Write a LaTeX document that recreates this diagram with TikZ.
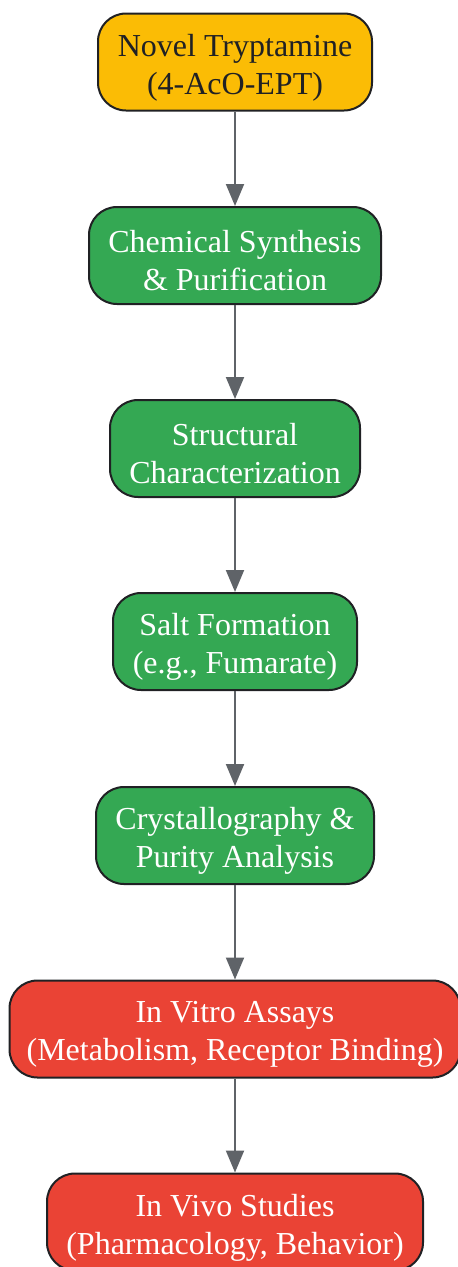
\documentclass[tikz,border=0pt]{standalone}
\usepackage{fontspec}
\setmainfont{Liberation Serif}
\usetikzlibrary{arrows.meta}
\definecolor{cyel}{HTML}{FBBC05}
\definecolor{cgrn}{HTML}{34A853}
\definecolor{cred}{HTML}{EA4335}
\definecolor{cdark}{HTML}{202124}
\definecolor{carr}{HTML}{5F6368}
\tikzset{
  box/.style={draw=cdark, line width=2pt, rounded corners=28pt,
    inner sep=0pt, minimum height=97pt},
  tx/.style={align=center, font=\fontsize{32}{38}\selectfont, inner sep=0pt, yshift=-5.5pt},
  ybox/.style={box, fill=cyel},
  gbox/.style={box, fill=cgrn},
  rbox/.style={box, fill=cred},
  flow/.style={draw=carr, line width=2pt, -{Triangle[length=22pt,width=18pt]}}
}
\begin{document}
\begin{tikzpicture}[x=1pt,y=-1pt]
\useasboundingbox (0,0) rectangle (458,1267);
\node[ybox, minimum width=274pt, label={[tx, text=cdark]center:{Novel Tryptamine\\(4-AcO-EPT)}}] (n1) at (235,62) {};
\node[gbox, minimum width=292pt, label={[tx, text=white]center:{Chemical Synthesis\\\& Purification}}] (n2) at (235,255.5) {};
\node[gbox, minimum width=250pt, label={[tx, text=white]center:{Structural\\Characterization}}] (n3) at (235,448.5) {};
\node[gbox, minimum width=244pt, label={[tx, text=white]center:{Salt Formation\\(e.g., Fumarate)}}] (n4) at (235,641.5) {};
\node[gbox, minimum width=278pt, label={[tx, text=white]center:{Crystallography \&\\Purity Analysis}}] (n5) at (235,835.5) {};
\node[rbox, minimum width=451pt, label={[tx, text=white]center:{In Vitro Assays\\(Metabolism, Receptor Binding)}}] (n6) at (235,1029) {};
\node[rbox, minimum width=376pt, label={[tx, text=white]center:{In Vivo Studies\\(Pharmacology, Behavior)}}] (n7) at (235,1222) {};
\draw[flow] (n1) -- (n2);
\draw[flow] (n2) -- (n3);
\draw[flow] (n3) -- (n4);
\draw[flow] (n4) -- (n5);
\draw[flow] (n5) -- (n6);
\draw[flow] (n6) -- (n7);
\end{tikzpicture}
\end{document}
